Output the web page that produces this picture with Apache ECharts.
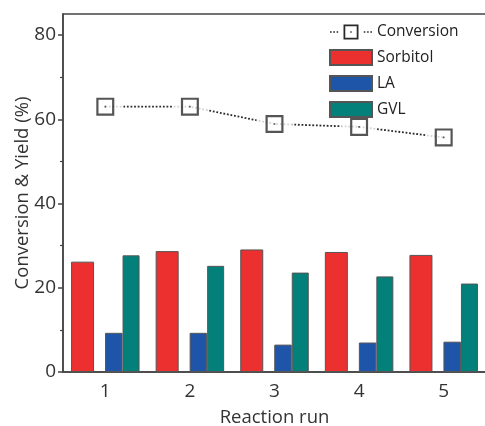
<!DOCTYPE html>
<html>
<head>
  <meta charset="utf-8">
  <title>Reaction run</title>
  <script src="https://cdn.jsdelivr.net/npm/echarts@6/dist/echarts.min.js"></script>
  <style>
    html, body { margin: 0; background: #fff; }
    #main { width: 485px; height: 426px; }
  </style>
</head>
<body>
  <div id="main"></div>
  <script>
    // data
    var runs = ['1', '2', '3', '4', '5'];
    var conversion = [63, 63, 58.9, 58.2, 55.7];
    var sorbitol = [26.2, 28.7, 29.1, 28.5, 27.8];
    var la = [9.3, 9.3, 6.5, 7.0, 7.2];
    var gvl = [27.7, 25.2, 23.6, 22.7, 21.0];
    var yTicks = [0, 20, 40, 60, 80];
    var yMinorTicks = [10, 30, 50, 70];

    var font = 'Open Sans';
    var axisColor = '#444';

    // open square with a dot in the middle
    var squareMark = 'path://M0,0H18V18H0Z M2.2,2.2V15.8H15.8V2.2Z M8.2,8.2H9.8V9.8H8.2Z';
    // dotted line + square, for the legend
    var convIcon = 'path://M0,6.7h1.6v1.6h-1.6Z M3.3,6.7h1.6v1.6h-1.6Z M6.6,6.7h1.6v1.6h-1.6Z ' +
      'M13.5,0H28.5V15H13.5Z M15.3,1.8V13.2H26.7V1.8Z M20.3,6.8h1.4v1.4h-1.4Z ' +
      'M33.8,6.7h1.6v1.6h-1.6Z M37.1,6.7h1.6v1.6h-1.6Z M40.4,6.7h1.6v1.6h-1.6Z';

    var chart = echarts.init(document.getElementById('main'));

    var barBorder = { borderColor: '#555', borderWidth: 1 };

    chart.setOption({
      animation: false,
      textStyle: { fontFamily: font },
      grid: {
        left: 63, right: -1, top: 14, bottom: 54,
        outerBoundsMode: 'none',
        show: true, borderColor: axisColor, borderWidth: 1.5
      },
      legend: {
        orient: 'vertical',
        left: 324, top: 19,
        itemWidth: 42, itemHeight: 15, itemGap: 9,
        textStyle: { fontFamily: font, fontSize: 15.5, color: '#222' },
        data: [
          { name: 'Conversion', icon: convIcon },
          { name: 'Sorbitol', icon: 'rect' },
          { name: 'LA', icon: 'rect' },
          { name: 'GVL', icon: 'rect' }
        ]
      },
      xAxis: [{
        type: 'category',
        data: runs,
        position: 'bottom',
        axisLine: { lineStyle: { color: axisColor, width: 1.5 } },
        axisTick: { alignWithLabel: true, length: 5, lineStyle: { color: axisColor, width: 1.5 } },
        axisLabel: { fontSize: 19, color: '#333', margin: 10, fontFamily: font },
        name: 'Reaction run',
        nameLocation: 'middle',
        nameGap: 36,
        nameMoveOverlap: false,
        nameTextStyle: { fontSize: 18.5, color: '#333', fontFamily: font }
      }, {
        type: 'category',
        data: runs,
        position: 'bottom',
        axisLine: { show: false },
        axisTick: { length: 3, lineStyle: { color: axisColor, width: 1.2 } },
        axisLabel: { show: false }
      }],
      yAxis: [{
        type: 'value',
        min: 0, max: 85,
        position: 'left',
        splitLine: { show: false },
        axisLine: { show: true, lineStyle: { color: axisColor, width: 1.5 } },
        axisTick: { show: true, length: 5, customValues: yTicks, lineStyle: { color: axisColor, width: 1.5 } },
        axisLabel: { fontSize: 19, color: '#333', margin: 7, customValues: yTicks, fontFamily: font },
        name: 'Conversion & Yield (%)',
        nameLocation: 'middle',
        nameGap: 31,
        nameMoveOverlap: false,
        nameTextStyle: { fontSize: 18.5, color: '#333', fontFamily: font }
      }, {
        type: 'value',
        min: 0, max: 85,
        position: 'left',
        splitLine: { show: false },
        axisLine: { show: false },
        axisTick: { show: true, length: 3, customValues: yMinorTicks, lineStyle: { color: axisColor, width: 1.2 } },
        axisLabel: { show: false }
      }],
      series: [
        {
          name: 'Sorbitol', type: 'bar', data: sorbitol,
          barWidth: 23, barGap: '0%',
          itemStyle: Object.assign({ color: '#ec2f2f' }, barBorder)
        },
        {
          // empty slot: the gap between red and blue bars
          name: 'gap', type: 'bar', data: [], barWidth: 11, barGap: '0%'
        },
        {
          name: 'LA', type: 'bar', data: la,
          barWidth: 17.5, barGap: '0%',
          itemStyle: Object.assign({ color: '#1f55a8' }, barBorder)
        },
        {
          name: 'GVL', type: 'bar', data: gvl,
          barWidth: 17, barGap: '0%',
          itemStyle: Object.assign({ color: '#038079' }, barBorder)
        },
        {
          name: 'Conversion', type: 'line', data: conversion,
          symbol: 'none', z: 2,
          itemStyle: { color: '#2a2a2a' },
          lineStyle: { color: '#2a2a2a', width: 1.8, type: [1.8, 1.8] }
        },
        {
          // white halo so the dotted line stops short of the squares
          name: 'convHalo', type: 'scatter', data: conversion,
          symbol: 'rect', symbolSize: [36, 20], silent: true, z: 3,
          itemStyle: { color: '#fff' }
        },
        {
          name: 'convMark', type: 'scatter', data: conversion,
          symbol: squareMark, symbolSize: 18, silent: true, z: 4,
          itemStyle: { color: '#2a2a2a' }
        }
      ]
    });
  </script>
</body>
</html>
